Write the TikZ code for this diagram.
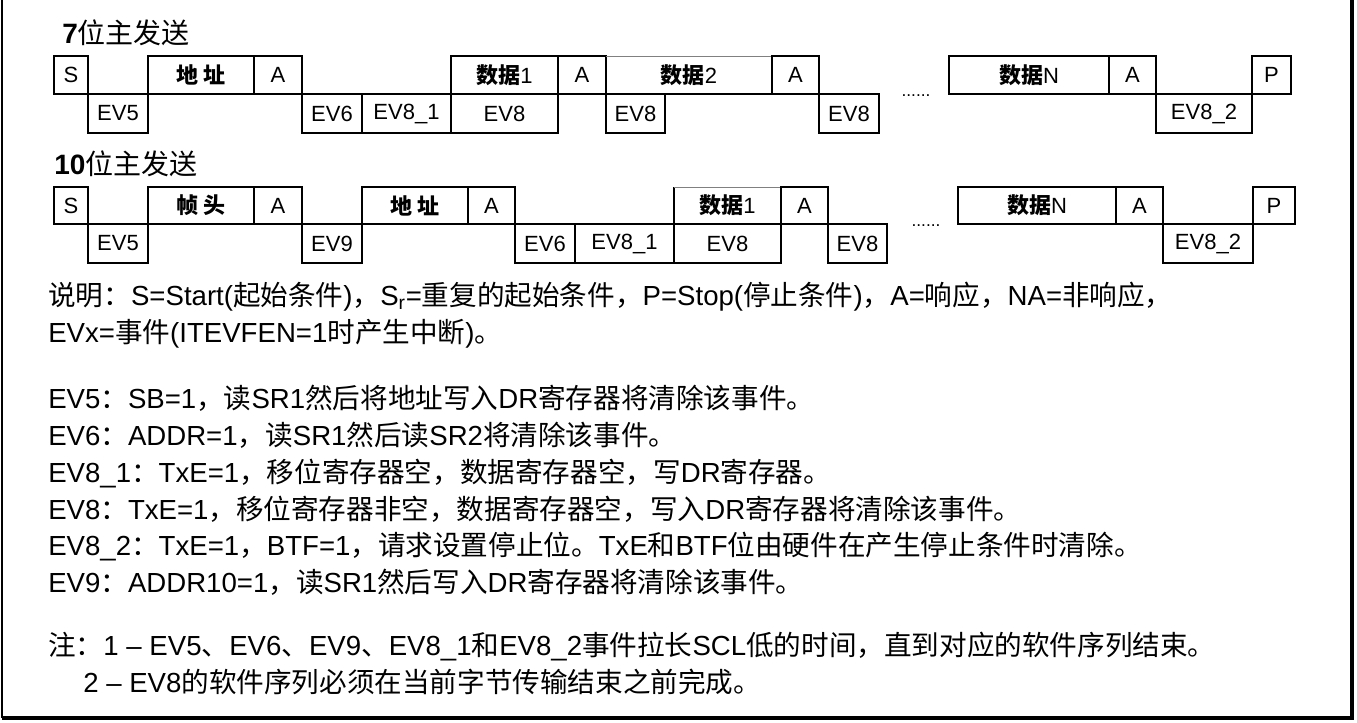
\documentclass[tikz,border=0pt]{standalone}
\usepackage{fontspec}
\setmainfont{Liberation Sans}
\newfontfamily\cjk{Noto Sans CJK SC}
\newcommand\zh[1]{{\cjk #1}}
\newcommand\bx[7][box]{%
  \node[#1, minimum width={(#4-#3)*0.75pt}, minimum height={(#6-#5)*0.75pt}] (#2) at ({(#3+#4)/2},{(#5+#6)/2}) {#7};}
\tikzset{
  box/.style={draw, line width=1.3pt, inner sep=0pt, outer sep=0pt, font=\fontsize{16.5}{18}\selectfont},
  thintop/.style={inner sep=0pt, outer sep=0pt, font=\fontsize{16.5}{18}\selectfont},
  txt/.style={anchor=base west, inner sep=0pt, font=\fontsize{20.7}{24}\selectfont},
  ttl/.style={anchor=base west, inner sep=0pt, font=\fontsize{21}{24}\selectfont},
  dots/.style={inner sep=0pt, font=\fontsize{13}{14}\selectfont},
  frame/.style={line width=1.2pt},
  heavy/.style={line width=2.4pt}
}
\begin{document}
\begin{tikzpicture}[x=0.75pt,y=-0.75pt]
\useasboundingbox (0,0) rectangle (1357,722);
% outer frame
\coordinate (f1) at (2,0);
\coordinate (f2) at (2,718);
\coordinate (f3) at (1352,718);
\coordinate (f4) at (1352,0);
\draw[frame] (f1) -- (f2);
\draw[heavy] (f2) -- (f3) -- (f4);

% ---------- 7-bit ----------
\node[ttl] (t1) at (62,43) {{\bfseries 7}\zh{位主发送}};
\bx{a1}{54}{88}{56}{94}{S}
\bx{a2}{148}{254}{56}{94}{\zh{\bfseries 地 址}}
\bx{a3}{254}{302}{56}{94}{A}
\bx{a4}{451}{558}{56}{94}{\zh{\bfseries 数据}1}
\bx{a5}{558}{606}{56}{94}{A}
\bx[thintop]{a6}{606}{772}{56}{94}{\zh{\bfseries 数据}2}
\draw[line width=1.3pt] (a6.north east) -- (a6.south east) -- (a6.south west) -- (a6.north west);
\draw[line width=0.5pt, gray] (a6.north west) -- (a6.north east);
\bx{a7}{772}{819}{56}{94}{A}
\bx{a8}{949}{1109}{56}{94}{\zh{\bfseries 数据}N}
\bx{a9}{1109}{1156}{56}{94}{A}
\bx{a10}{1252}{1291}{56}{94}{P}
\bx{b1}{88}{148}{94}{133}{EV5}
\bx{b2}{302}{362}{94}{133}{EV6}
\bx{b3}{362}{451}{94}{133}{EV8\_1}
\bx{b4}{451}{558}{94}{133}{EV8}
\bx{b5}{606}{665}{94}{133}{EV8}
\bx{b6}{819}{879}{94}{133}{EV8}
\bx{b7}{1156}{1252}{94}{133}{EV8\_2}
\node[dots] (d1) at (916,96) {......};

% ---------- 10-bit ----------
\node[ttl] (t2) at (54,174) {{\bfseries 10}\zh{位主发送}};
\bx{c1}{54}{88}{187}{224}{S}
\bx{c2}{148}{254}{187}{224}{\zh{\bfseries 帧 头}}
\bx{c3}{254}{302}{187}{224}{A}
\bx{c4}{362}{468}{187}{224}{\zh{\bfseries 地 址}}
\bx{c5}{468}{515}{187}{224}{A}
\bx[thintop]{c6}{674}{781}{187}{224}{\zh{\bfseries 数据}1}
\draw[line width=1.3pt] (c6.north east) -- (c6.south east) -- (c6.south west) -- (c6.north west);
\draw[line width=0.5pt, gray] (c6.north west) -- (c6.north east);
\bx{c7}{781}{828}{187}{224}{A}
\bx{c8}{958}{1116}{187}{224}{\zh{\bfseries 数据}N}
\bx{c9}{1116}{1163}{187}{224}{A}
\bx{c10}{1253}{1295}{187}{224}{P}
\bx{e1}{88}{148}{224}{263}{EV5}
\bx{e2}{302}{362}{224}{263}{EV9}
\bx{e3}{515}{575}{224}{263}{EV6}
\bx{e4}{575}{674}{224}{263}{EV8\_1}
\bx{e5}{674}{781}{224}{263}{EV8}
\bx{e6}{828}{887}{224}{263}{EV8}
\bx{e7}{1163}{1253}{224}{263}{EV8\_2}
\node[dots] (d2) at (926,226) {......};

% ---------- notes ----------
\node[txt] (n1) at (48,305) {\zh{说明：}S=Start(\zh{起始条件})\zh{，}S\textsubscript{r}=\zh{重复的起始条件，}P=Stop(\zh{停止条件})\zh{，}A=\zh{响应，}NA=\zh{非响应，}};
\node[txt] (n2) at (48,342) {EVx=\zh{事件}(ITEVFEN=1\zh{时产生中断})\zh{。}};
\node[txt] (n3) at (48,408) {EV5\zh{：}SB=1\zh{，读}SR1\zh{然后将地址写入}DR\zh{寄存器将清除该事件。}};
\node[txt] (n4) at (48,445) {EV6\zh{：}ADDR=1\zh{，读}SR1\zh{然后读}SR2\zh{将清除该事件。}};
\node[txt] (n5) at (48,482) {EV8\_1\zh{：}TxE=1\zh{，移位寄存器空，数据寄存器空，写}DR\zh{寄存器。}};
\node[txt] (n6) at (48,519) {EV8\zh{：}TxE=1\zh{，移位寄存器非空，数据寄存器空，写入}DR\zh{寄存器将清除该事件。}};
\node[txt] (n7) at (48,555) {EV8\_2\zh{：}TxE=1\zh{，}BTF=1\zh{，请求设置停止位。}TxE\zh{和}BTF\zh{位由硬件在产生停止条件时清除。}};
\node[txt] (n8) at (48,592) {EV9\zh{：}ADDR10=1\zh{，读}SR1\zh{然后写入}DR\zh{寄存器将清除该事件。}};
\node[txt] (n9) at (48,655) {\zh{注：}1 – EV5\zh{、}EV6\zh{、}EV9\zh{、}EV8\_1\zh{和}EV8\_2\zh{事件拉长}SCL\zh{低的时间，直到对应的软件序列结束。}};
\node[txt] (n10) at (83,692) {2 – EV8\zh{的软件序列必须在当前字节传输结束之前完成。}};
\end{tikzpicture}
\end{document}
